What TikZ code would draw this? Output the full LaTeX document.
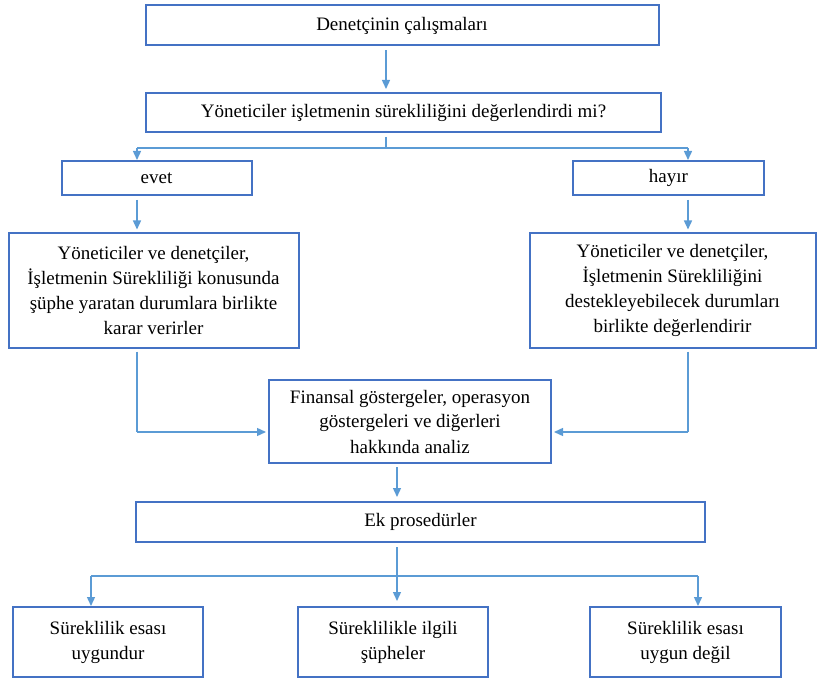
\documentclass[tikz,border=0pt]{standalone}
\usepackage{fontspec}
\setmainfont{Liberation Serif}
\usetikzlibrary{arrows.meta}
\definecolor{boxblue}{RGB}{68,114,196}
\definecolor{arrblue}{RGB}{91,155,213}
\tikzset{
  bx/.style={draw=boxblue, line width=2pt, rectangle, align=center, inner sep=2pt,
    font=\fontsize{19}{25}\selectfont, text=black},
  arr/.style={draw=arrblue, line width=1.4pt, -{Triangle[width=8pt,length=9pt]}},
  ln/.style={draw=arrblue, line width=1.4pt},
}
\begin{document}
\begin{tikzpicture}[x=1pt,y=-1pt]
\useasboundingbox (0,0) rectangle (817,679);
\node[bx, minimum width=513pt, minimum height=40pt] (b1) at (402,25.5) {Denetçinin çalışmaları};
\node[bx, minimum width=515pt, minimum height=39pt] (b2) at (403.5,112.5) {Yöneticiler işletmenin sürekliliğini değerlendirdi mi?};
\node[bx, minimum width=190pt, minimum height=34pt] (evet) at (156.5,178) {evet};
\node[bx, minimum width=191pt, minimum height=34pt] (hayir) at (668.5,178) {hayır};
\node[bx, minimum width=290pt, minimum height=114pt] (lb) at (153.5,290.5) {Yöneticiler ve denetçiler,\\İşletmenin Sürekliliği konusunda\\şüphe yaratan durumlara birlikte\\karar verirler};
\node[bx, minimum width=286pt, minimum height=114pt] (rb) at (672.5,290.5) {Yöneticiler ve denetçiler,\\İşletmenin Sürekliliğini\\destekleyebilecek durumları\\birlikte değerlendirir};
\node[bx, minimum width=282pt, minimum height=83pt] (mid) at (410,421.5) {Finansal göstergeler, operasyon\\göstergeleri ve diğerleri\\hakkında analiz};
\node[bx, minimum width=569pt, minimum height=40pt] (ek) at (420.5,522) {Ek prosedürler};
\node[bx, minimum width=190pt, minimum height=70pt] (s1) at (108,642) {Süreklilik esası\\uygundur};
\node[bx, minimum width=190pt, minimum height=70pt] (s2) at (393,642) {Süreklilikle ilgili\\şüpheler};
\node[bx, minimum width=191pt, minimum height=70pt] (s3) at (685.5,642) {Süreklilik esası\\uygun değil};

\coordinate (xa) at (386,0);
\coordinate (xl) at (137,0);
\coordinate (xr) at (688,0);
\coordinate (xm) at (397,0);
\coordinate (xbl) at (91,0);
\coordinate (xbr) at (698,0);

\draw[arr, shorten <=4pt, shorten >=3pt] (xa |- b1.south) -- (xa |- b2.north);
\coordinate (j1) at (386,148);
\draw[ln, shorten <=4pt] (xa |- b2.south) -- (j1);
\draw[ln] (xl |- j1) -- (xr |- j1);
\draw[arr] (xl |- j1) -- (xl |- evet.north);
\draw[arr] (xr |- j1) -- (xr |- hayir.north);
\draw[arr, shorten <=4pt, shorten >=3pt] (xl |- evet.south) -- (xl |- lb.north);
\draw[arr, shorten <=4pt, shorten >=3pt] (xr |- hayir.south) -- (xr |- rb.north);
\coordinate (j2) at (0,432);
\draw[ln, shorten <=3pt] (xl |- lb.south) -- (xl |- j2);
\draw[arr, shorten >=2pt] (xl |- j2) -- (mid.west |- j2);
\draw[ln, shorten <=3pt] (xr |- rb.south) -- (xr |- j2);
\draw[arr, shorten >=2pt] (xr |- j2) -- (mid.east |- j2);
\draw[arr, shorten <=3pt, shorten >=4pt] (xm |- mid.south) -- (xm |- ek.north);
\coordinate (j3) at (0,576);
\draw[arr, shorten <=4pt, shorten >=5pt] (xm |- ek.south) -- (xm |- s2.north);
\draw[ln] (xbl |- j3) -- (xbr |- j3);
\draw[arr] (xbl |- j3) -- (xbl |- s1.north);
\draw[arr] (xbr |- j3) -- (xbr |- s3.north);
\end{tikzpicture}
\end{document}
